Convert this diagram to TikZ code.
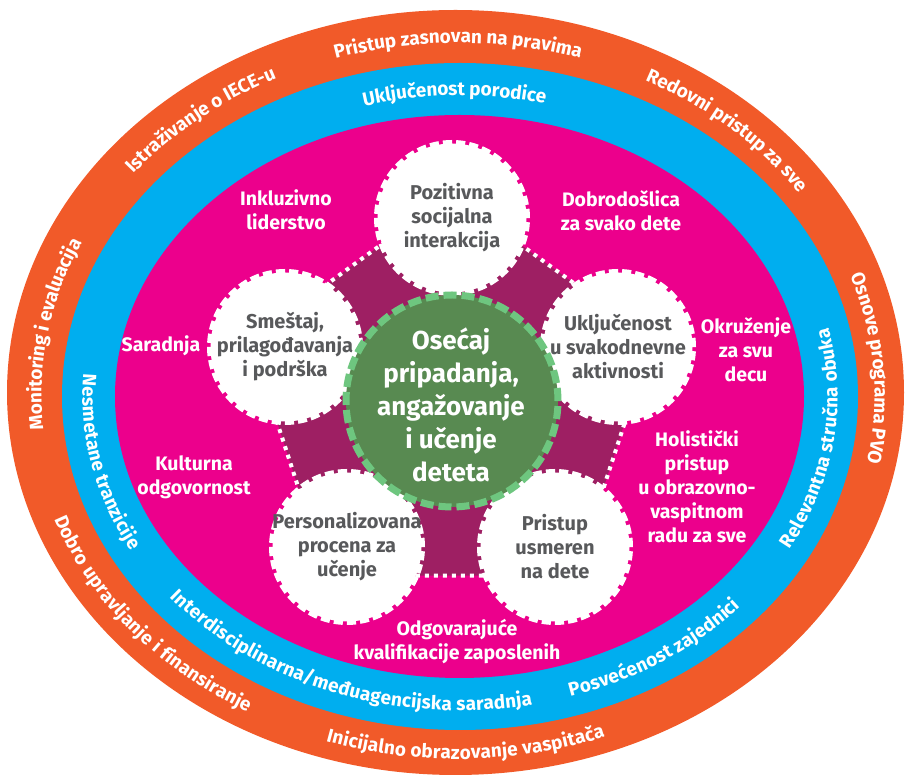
\documentclass[tikz,border=0pt]{standalone}
\usepackage{fontspec}
\setmainfont{Fira Sans}
\usepackage{xcolor}
\usetikzlibrary{decorations.text}

\definecolor{ringorange}{HTML}{F15A29}
\definecolor{ringblue}{HTML}{00AEEF}
\definecolor{ringmagenta}{HTML}{EC008C}
\definecolor{darkplum}{HTML}{9E1F63}
\definecolor{childgreen}{HTML}{588A51}
\definecolor{lightgreen}{HTML}{6EC67F}
\definecolor{textgray}{HTML}{58595B}

\newcommand{\orangefont}{\bfseries\fontsize{19}{19}\selectfont}
\newcommand{\bluefont}{\bfseries\fontsize{19}{19}\selectfont}

% clockwise label (letters point outward)
\newcommand{\cwlabel}[5]{%
  \pgfmathsetmacro{\lblstart}{#1+65}\pgfmathsetmacro{\lblend}{#1-65}%
  \path[ringlabel={#4}{#5}] (\lblstart:#2pt and #3pt)
    arc[start angle=\lblstart, end angle=\lblend, x radius=#2pt, y radius=#3pt];}
% counterclockwise label (letters point inward)
\newcommand{\ccwlabel}[5]{%
  \pgfmathsetmacro{\lblstart}{#1-65}\pgfmathsetmacro{\lblend}{#1+65}%
  \path[ringlabel={#4}{#5}] (\lblstart:#2pt and #3pt)
    arc[start angle=\lblstart, end angle=\lblend, x radius=#2pt, y radius=#3pt];}

\begin{document}
\begin{tikzpicture}[x=1pt,y=1pt,
    ringlabel/.style 2 args={decorate,
      decoration={text along path, text={|#1|#2}, text align=center,
        text color=white, raise=-6.5pt}},
    wheel/.style={circle, fill=white, draw=white, line width=7pt,
      dash pattern=on 9pt off 4pt, minimum size=149pt, inner sep=0pt},
    hub/.style={circle, fill=childgreen, draw=lightgreen, line width=7pt,
      dash pattern=on 13pt off 5pt, minimum size=212pt, inner sep=0pt},
    wheeltext/.style={text=textgray, align=center,
      font=\bfseries\fontsize{20}{24}\selectfont},
    hubtext/.style={text=white, align=center,
      font=\bfseries\fontsize{26}{33}\selectfont},
    value/.style={text=white, align=center,
      font=\bfseries\fontsize{19.5}{24}\selectfont}]
    \useasboundingbox (0,0) rectangle (906,779);

    %Rings
    \fill[ringorange] (455.5,386.5) ellipse[x radius=448.5pt, y radius=382.5pt];
    \fill[ringblue] (460,382.5) ellipse[x radius=398pt, y radius=333.5pt];
    \fill[ringmagenta] (459.5,382.5) ellipse[x radius=344.5pt, y radius=281.5pt];

    %Orange ring labels
    \begin{scope}[shift={(458,384.5)}]
    \cwlabel{90}{423}{358}{\orangefont}{Pristup zasnovan na pravima}
    \cwlabel{45.6}{423}{358}{\orangefont}{Redovni pristup za sve}
    \cwlabel{3.8}{423}{358}{\orangefont}{Osnove programa PVO}
    \cwlabel{171.2}{423}{358}{\orangefont}{Monitoring i evaluacija}
    \cwlabel{132}{423}{358}{\orangefont}{Istraživanje o IECE-u}
    \ccwlabel{217}{423}{358}{\orangefont}{Dobro upravljanje i finansiranje}
    \ccwlabel{271.2}{423}{358}{\orangefont}{Inicijalno obrazovanje vaspitača}
    \end{scope}

    %Blue ring labels
    \begin{scope}[shift={(460,382.5)}]
    \cwlabel{91}{371}{307.5}{\bluefont}{Uključenost porodice}
    \ccwlabel{352.8}{371}{307.5}{\bluefont}{Relevantna stručna obuka}
    \ccwlabel{306.3}{371}{307.5}{\bluefont}{Posvećenost zajednici}
    \ccwlabel{248.4}{371}{307.5}{\bluefont}{Interdisciplinarna/međuagencijska saradnja}
    \ccwlabel{191}{371}{307.5}{\bluefont}{Nesmetane tranzicije}
    \end{scope}

    %Star behind the wheels
    \begin{scope}[shift={(451,374)}]
    \filldraw[fill=darkplum, draw=white, line width=4pt, dash pattern=on 4pt off 5pt]
      (90:211pt) -- (162:211pt) -- (234:211pt) -- (306:211pt) -- (18:211pt) -- cycle;
    \end{scope}

    %Wheels
    \node[wheel] (social)   at (452,561) {};
    \node[wheel] (support)  at (285,432) {};
    \node[wheel] (daily)    at (618,432) {};
    \node[wheel] (assess)   at (347,232) {};
    \node[wheel] (centered) at (555,232) {};
    \node[hub] (child) at (452,378) {};

    \node[wheeltext] at (social)   {Pozitivna\\socijalna\\interakcija};
    \node[wheeltext] at (support)  {Smeštaj,\\prilagođavanja\\i podrška};
    \node[wheeltext] at (daily)    {Uključenost\\u svakodnevne\\aktivnosti};
    \node[wheeltext] at (assess)   {Personalizovana\\procena za\\učenje};
    \node[wheeltext] at (centered) {Pristup\\usmeren\\na dete};
    \node[hubtext] at (451,374) {Osećaj\\pripadanja,\\angažovanje\\i učenje\\deteta};

    %Values in the magenta ring
    \node[value] (leader)   at (286,569) {Inkluzivno\\liderstvo};
    \node[value] (welcome)  at (621,568) {Dobrodošlica\\za svako dete};
    \node[value] (collab)   at (161,433) {Saradnja};
    \node[value] (setting)  at (746,429) {Okruženje\\za svu\\decu};
    \node[value] (culture)  at (194,302) {Kulturna\\odgovornost};
    \node[value] (holistic) at (697,292) {Holistički\\pristup\\u obrazovno-\\vaspitnom\\radu za sve};
    \node[value] (staff)    at (457,137) {Odgovarajuće\\kvalifikacije zaposlenih};
\end{tikzpicture}
\end{document}
